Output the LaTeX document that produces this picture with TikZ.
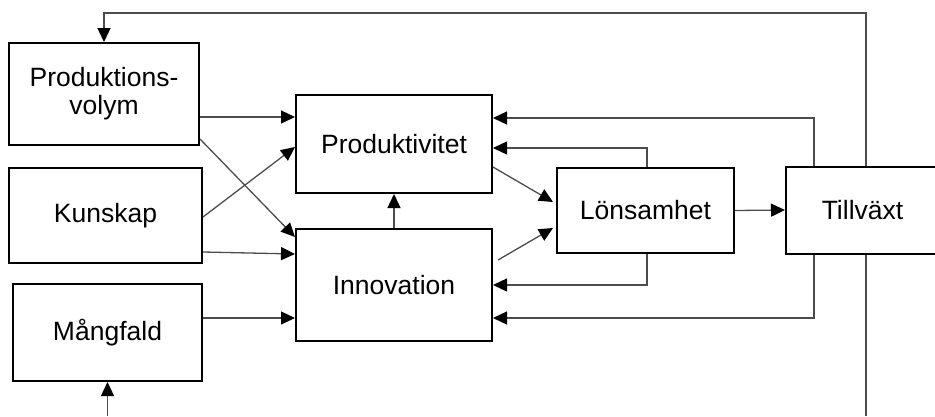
\documentclass[tikz,border=0pt]{standalone}
\usepackage{fontspec}
\setmainfont{Liberation Sans}
\usetikzlibrary{arrows.meta}
\tikzset{
  box/.style={draw=black, line width=2pt, fill=white, inner sep=0pt, align=center,
    font=\fontsize{26.5}{28}\selectfont},
  conn/.style={draw=black!70, line width=1.3pt},
  arr/.style={conn, -{Triangle[length=14pt,width=13pt,fill=black,color=black]}},
}
\begin{document}
\begin{tikzpicture}[x=1pt,y=-1pt]
\useasboundingbox (0,0) rectangle (935,416);
% boxes
\node[box, minimum width=190pt, minimum height=102pt] (pv) at (104,94) {\raisebox{-2pt}{Produktions-}\\\raisebox{-2pt}{volym}};
\node[box, minimum width=193pt, minimum height=95pt] (ku) at (105.5,215.5) {Kunskap};
\node[box, minimum width=189pt, minimum height=97pt] (ma) at (107.5,332.5) {Mångfald};
\node[box, minimum width=196pt, minimum height=98pt] (pr) at (394,144) {Produktivitet};
\node[box, minimum width=196pt, minimum height=112pt] (in) at (394,285) {Innovation};
\node[box, minimum width=177pt, minimum height=85pt] (lo) at (645.5,210.5) {Lönsamhet};
\node[box, minimum width=150pt, minimum height=87pt] (ti) at (861,210) {\hspace*{3pt}Tillväxt};
% helper levels
\coordinate (y117) at (0,117);
\coordinate (y139) at (0,139);
\coordinate (y237) at (0,237);
\coordinate (y217) at (0,217);
\coordinate (y147) at (0,147);
\coordinate (y252) at (0,252);
\coordinate (y254) at (0,254);
\coordinate (y318) at (0,318);
\coordinate (y167) at (0,167);
\coordinate (y202) at (0,202);
\coordinate (y260) at (0,260);
\coordinate (y228) at (0,228);
\coordinate (y148) at (0,148);
\coordinate (y118) at (0,118);
\coordinate (y285) at (0,285);
\coordinate (x647) at (647,0);
\coordinate (x814) at (814,0);
\coordinate (x866) at (866,0);
\coordinate (top) at (104,13);
\coordinate (bot1) at (866,416);
\coordinate (bot2) at (107.5,416);
\coordinate (lotip) at (553,0);
\coordinate (instart) at (498,0);
% left inputs
\draw[arr] (pv.east |- y117) -- (pr.west |- y117);
\draw[arr] (pv.east |- y139) -- (in.west |- y237);
\draw[arr] (ku.east |- y217) -- (pr.west |- y147);
\draw[arr] (ku.east |- y252) -- (in.west |- y254);
\draw[arr] (ma.east |- y318) -- (in.west |- y318);
% middle
\draw[arr] (in.north) -- (pr.south);
\draw[arr] (pr.east |- y167) -- (lotip |- y202);
\draw[arr] (instart |- y260) -- (lotip |- y228);
\draw[arr] (lo.east) -- (ti.west);
% feedbacks
\draw[arr] (x647 |- lo.north) -- (x647 |- y148) -- (pr.east |- y148);
\draw[arr] (x814 |- ti.north) -- (x814 |- y118) -- (pr.east |- y118);
\draw[arr] (x647 |- lo.south) -- (x647 |- y285) -- (in.east |- y285);
\draw[arr] (x814 |- ti.south) -- (x814 |- y318) -- (in.east |- y318);
\draw[arr] (x866 |- ti.north) -- (x866 |- top) -- (top) -- (pv.north);
\draw[conn] (x866 |- ti.south) -- (bot1);
\draw[arr] (bot2) -- (ma.south);
\end{tikzpicture}
\end{document}
